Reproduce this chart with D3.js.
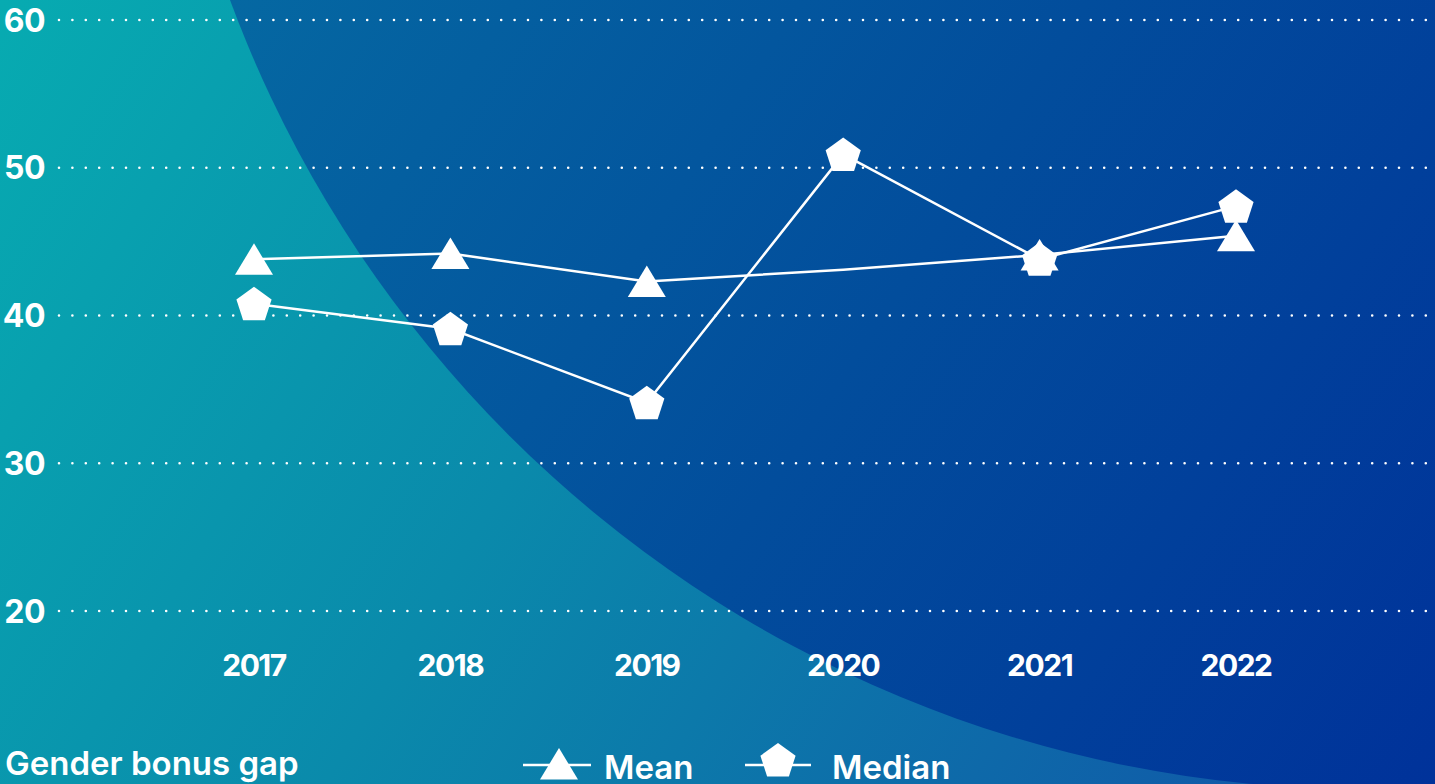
<!DOCTYPE html>
<html>
<head>
<meta charset="utf-8">
<script src="https://cdn.jsdelivr.net/npm/d3@7"></script>
<style>
  html, body { margin: 0; padding: 0; overflow: hidden; background: #0a5a9f; }
  text { font-family: Inter, "Noto Sans", sans-serif; fill: #fff; }
</style>
</head>
<body>
<div id="chart"></div>
<script>
// chart data
var years = ["2017", "2018", "2019", "2020", "2021", "2022"];
var meanValues = [43.8, 44.2, 42.3, 43.1, 44.1, 45.4];
var medianValues = [40.8, 39.1, 34.1, 50.9, 43.8, 47.4];
var meanMarkerHidden = ["2020"];
var yTicks = [20, 30, 40, 50, 60];
var title = "Gender bonus gap";

var W = 1435, H = 784;

var svg = d3.select("#chart").append("svg")
  .attr("width", W)
  .attr("height", H);

var defs = svg.append("defs");

// background gradients
var gOut = defs.append("linearGradient").attr("id", "bgOut")
  .attr("gradientUnits", "userSpaceOnUse")
  .attr("x1", 0).attr("y1", 0).attr("x2", 1300).attr("y2", 784);
gOut.append("stop").attr("offset", "0").attr("stop-color", "#07abb1");
gOut.append("stop").attr("offset", "0.45").attr("stop-color", "#0a8aab");
gOut.append("stop").attr("offset", "1").attr("stop-color", "#1058a8");

var gIn = defs.append("linearGradient").attr("id", "bgIn")
  .attr("gradientUnits", "userSpaceOnUse")
  .attr("x1", 230).attr("y1", 0).attr("x2", 1435).attr("y2", 784);
gIn.append("stop").attr("offset", "0").attr("stop-color", "#0568a2");
gIn.append("stop").attr("offset", "0.5").attr("stop-color", "#024d9c");
gIn.append("stop").attr("offset", "1").attr("stop-color", "#00329a");

svg.append("rect").attr("width", W).attr("height", H).attr("fill", "url(#bgOut)");
svg.append("circle")
  .attr("cx", 1363).attr("cy", -419).attr("r", 1208)
  .attr("fill", "url(#bgIn)");

// scales
var x = d3.scalePoint().domain(years).range([254, 1236]);
var y = d3.scaleLinear().domain([20, 60]).range([611, 20]);

// dotted gridlines
svg.append("g").selectAll("line")
  .data(yTicks).enter().append("line")
  .attr("x1", 59).attr("x2", W)
  .attr("y1", function(d) { return y(d); })
  .attr("y2", function(d) { return y(d); })
  .attr("stroke", "#fff")
  .attr("stroke-width", 2.6)
  .attr("stroke-linecap", "round")
  .attr("stroke-dasharray", "0,13.4");

// y labels
svg.append("g").selectAll("text")
  .data(yTicks).enter().append("text")
  .attr("x", 45)
  .attr("y", function(d) { return y(d); })
  .attr("dy", "0.36em")
  .attr("text-anchor", "end")
  .style("font-size", "32px")
  .style("font-weight", 700)
  .style("letter-spacing", "-0.5px")
  .text(function(d) { return d; });

// x labels
svg.append("g").selectAll("text")
  .data(years).enter().append("text")
  .attr("x", function(d) { return x(d); })
  .attr("y", 676)
  .attr("text-anchor", "middle")
  .style("font-size", "30px")
  .style("font-weight", 700)
  .style("letter-spacing", "-1.5px")
  .text(function(d) { return d; });

// marker shapes
function trianglePath(cx, cy) {
  return "M" + cx + "," + (cy - 16) + "L" + (cx + 19) + "," + (cy + 15.5) + "L" + (cx - 19) + "," + (cy + 15.5) + "Z";
}
function pentagonPath(cx, cy) {
  var r = 18.5, pts = [];
  for (var i = 0; i < 5; i++) {
    var a = -Math.PI / 2 + i * 2 * Math.PI / 5;
    pts.push([cx + r * Math.cos(a), cy + r * Math.sin(a) + 1.5]);
  }
  return "M" + pts.join("L") + "Z";
}

var line = d3.line()
  .x(function(d) { return x(d.year); })
  .y(function(d) { return y(d.value); });

var meanData = years.map(function(yr, i) { return {year: yr, value: meanValues[i]}; });
var medianData = years.map(function(yr, i) { return {year: yr, value: medianValues[i]}; });

svg.append("path").datum(meanData)
  .attr("d", line).attr("fill", "none")
  .attr("stroke", "#fff").attr("stroke-width", 2.5);
svg.append("path").datum(medianData)
  .attr("d", line).attr("fill", "none")
  .attr("stroke", "#fff").attr("stroke-width", 2.5);

svg.append("g").selectAll("path")
  .data(meanData.filter(function(d) { return meanMarkerHidden.indexOf(d.year) < 0; }))
  .enter().append("path")
  .attr("d", function(d) { return trianglePath(x(d.year), y(d.value)); })
  .attr("fill", "#fff");

svg.append("g").selectAll("path")
  .data(medianData).enter().append("path")
  .attr("d", function(d) { return pentagonPath(x(d.year), y(d.value)); })
  .attr("fill", "#fff");

// title
svg.append("text")
  .attr("x", 5).attr("y", 775)
  .style("font-size", "33px")
  .style("font-weight", 600)
  .text(title);

// legend
var legend = svg.append("g");
legend.append("line").attr("x1", 523).attr("x2", 591).attr("y1", 765).attr("y2", 765)
  .attr("stroke", "#fff").attr("stroke-width", 2.5);
legend.append("path").attr("d", trianglePath(559, 764)).attr("fill", "#fff");
legend.append("text").attr("x", 604).attr("y", 779)
  .style("font-size", "33px").style("font-weight", 600)
  .text("Mean");

legend.append("line").attr("x1", 745).attr("x2", 811).attr("y1", 765).attr("y2", 765)
  .attr("stroke", "#fff").attr("stroke-width", 2.5);
legend.append("path").attr("d", pentagonPath(778, 760)).attr("fill", "#fff");
legend.append("text").attr("x", 832).attr("y", 779)
  .style("font-size", "33px").style("font-weight", 600)
  .text("Median");
</script>
</body>
</html>
